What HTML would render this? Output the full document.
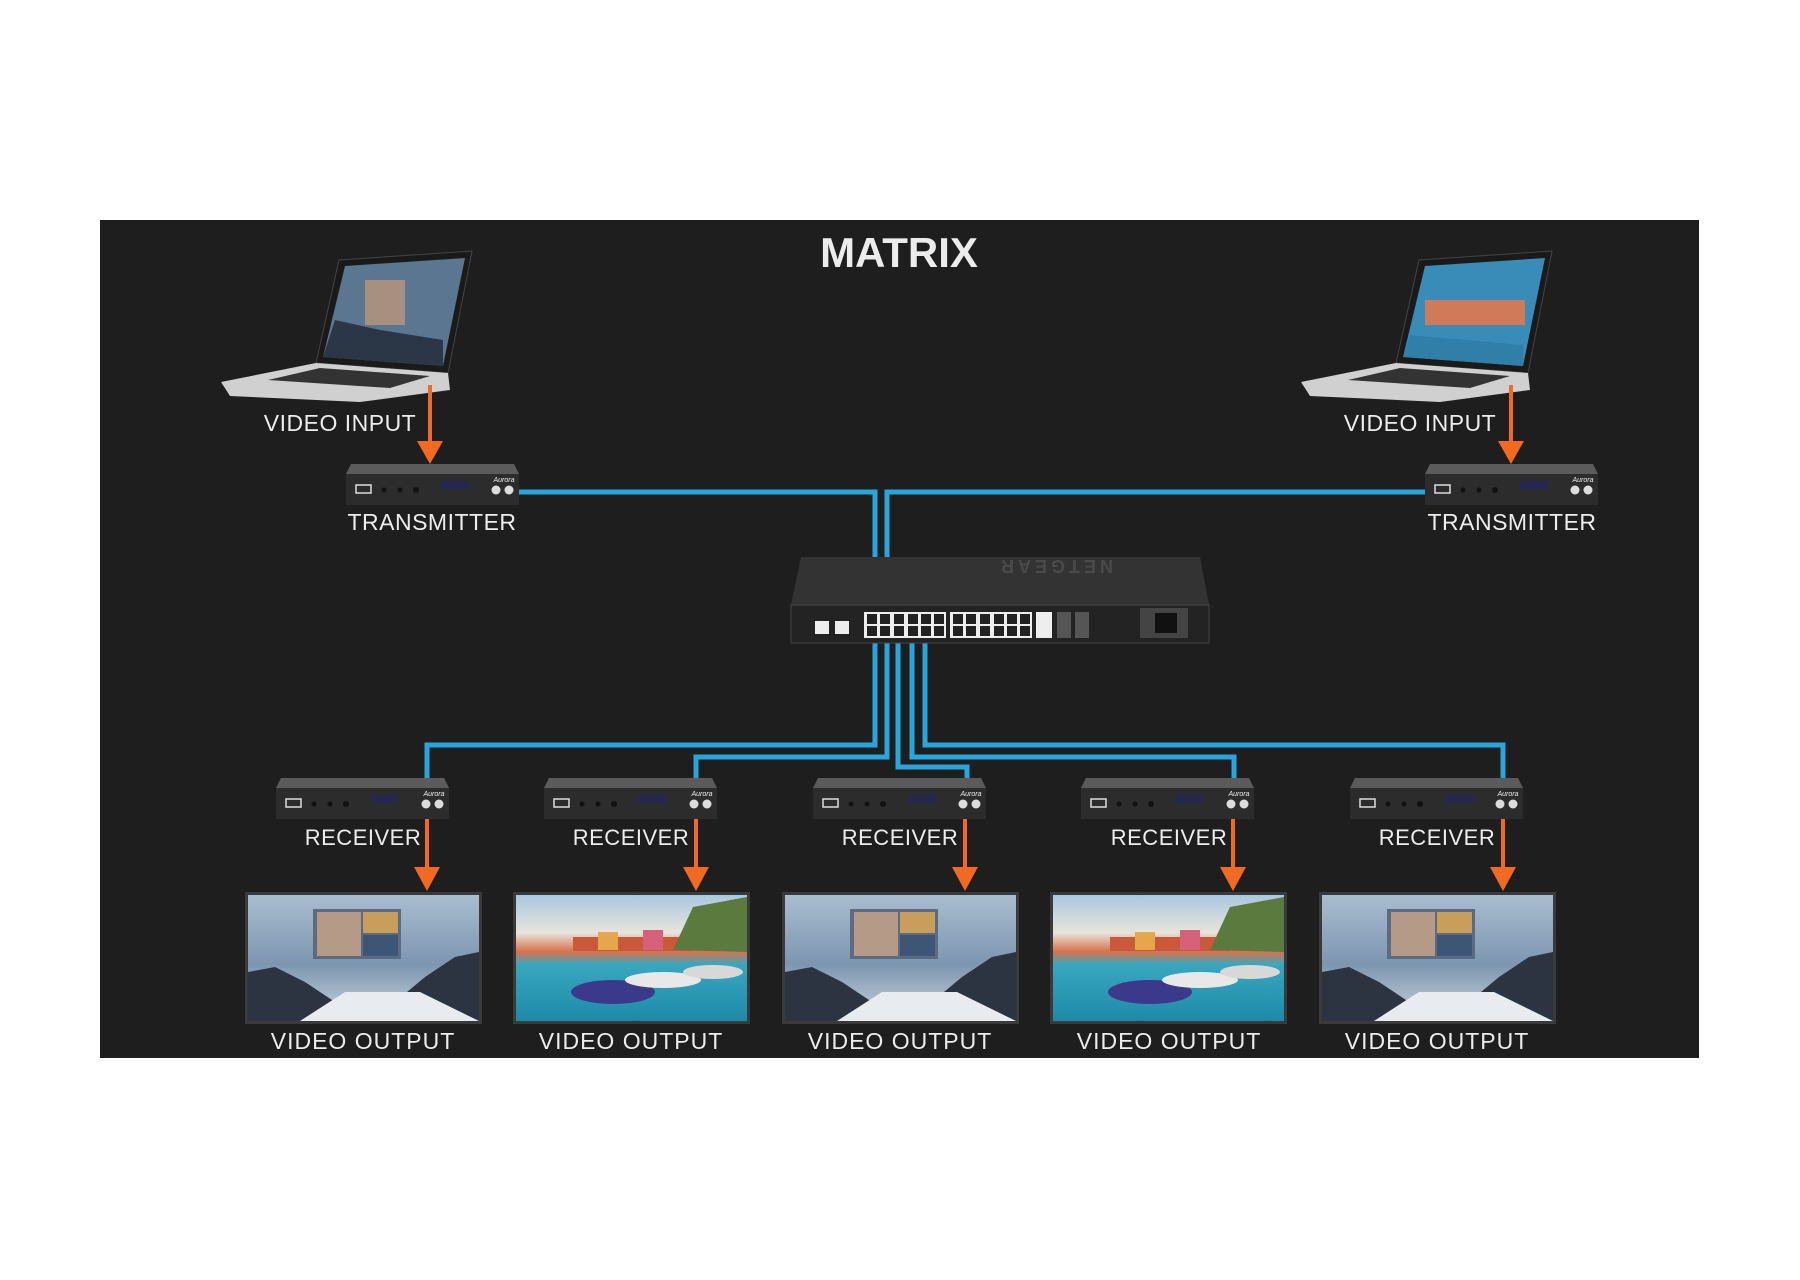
<!DOCTYPE html>
<html><head><meta charset="utf-8"><style>
html,body{margin:0;padding:0;background:#fff;}
svg{display:block}
text{font-family:"Liberation Sans",sans-serif;fill:#ececec;}
</style></head><body>
<svg width="1800" height="1280" viewBox="0 0 1800 1280" xmlns="http://www.w3.org/2000/svg">
<defs>
<linearGradient id="meet" x1="0" y1="0" x2="0" y2="1">
<stop offset="0" stop-color="#a9bdd0"/><stop offset="0.55" stop-color="#7d96b0"/><stop offset="1" stop-color="#c9d3de"/>
</linearGradient>
<linearGradient id="harb" x1="0" y1="0" x2="0" y2="1">
<stop offset="0" stop-color="#a8c8e0"/><stop offset="0.3" stop-color="#e8e4dc"/><stop offset="0.45" stop-color="#d9704a"/><stop offset="0.55" stop-color="#3aa7c0"/><stop offset="1" stop-color="#1d8aa8"/>
</linearGradient>
<g id="dev">
<polygon points="5,0 168,0 173,10 0,10" fill="#5b5b5b"/>
<rect x="0" y="10" width="173" height="31" fill="#2c2c2c"/>
<rect x="10" y="21" width="15" height="8" fill="none" stroke="#ddd" stroke-width="1.5"/>
<circle cx="38" cy="26" r="2.5" fill="#111"/><circle cx="54" cy="26" r="2.5" fill="#111"/><circle cx="70" cy="26" r="3" fill="#111"/>
<rect x="95" y="17" width="28" height="8" fill="#262650"/>
<circle cx="150" cy="26" r="4.5" fill="#ddd"/><circle cx="163" cy="26" r="4.5" fill="#ddd"/>
<text x="158" y="18" font-size="7" font-style="italic" text-anchor="middle">Aurora</text>
</g>
<g id="mon-meet">
<rect x="0" y="0" width="237" height="132" fill="#3a3a3a"/>
<rect x="3" y="3" width="231" height="126" fill="url(#meet)"/>
<rect x="68" y="17" width="88" height="50" fill="#5b6b80"/>
<rect x="72" y="20" width="44" height="44" fill="#b59a88"/>
<rect x="118" y="20" width="35" height="21" fill="#c99d5a"/>
<rect x="118" y="43" width="35" height="21" fill="#3e5676"/>
<polygon points="3,129 3,80 30,75 60,90 90,110 150,110 180,85 210,65 234,60 234,129" fill="#2c3442"/>
<polygon points="55,129 100,100 175,100 234,129" fill="#e8ecf0"/>
</g>
<g id="mon-harb">
<rect x="0" y="0" width="237" height="132" fill="#3a3a3a"/>
<rect x="3" y="3" width="231" height="126" fill="url(#harb)"/>
<rect x="60" y="45" width="120" height="14" fill="#c9593a"/>
<rect x="85" y="40" width="20" height="18" fill="#e5a74a"/>
<rect x="130" y="38" width="20" height="20" fill="#d7607a"/>
<polygon points="160,58 180,15 234,5 234,60" fill="#5a7a3e"/>
<ellipse cx="100" cy="100" rx="42" ry="12" fill="#3b3a8a"/>
<ellipse cx="150" cy="88" rx="38" ry="8" fill="#e8e8e8"/>
<ellipse cx="200" cy="80" rx="30" ry="7" fill="#d8d8d8"/>
</g>
<g id="laptop">
<polygon points="339,260 472,251 448,373 316,363" fill="#1a1a1a" stroke="#444" stroke-width="1"/>
<polygon points="221,382 316,363 448,373 450,390 360,402 230,396" fill="#d0d0d0"/>
<polygon points="268,380 320,368 430,376 390,388" fill="#333"/>
</g>
</defs>
<rect x="100" y="220" width="1599" height="838" fill="#1e1e1e"/>
<text x="899" y="267" font-size="42" font-weight="bold" text-anchor="middle">MATRIX</text>

<use href="#laptop"/>
<use href="#laptop" transform="translate(1080,0)"/>
<polygon points="345,266 465,258 443,366 323,357" fill="#5a7690"/>
<rect x="365" y="280" width="40" height="45" fill="#a89080"/>
<polygon points="323,357 335,320 380,330 443,340 443,366" fill="#2b3646"/>
<polygon points="1425,266 1545,258 1523,366 1403,357" fill="#3a8cb8"/>
<rect x="1425" y="300" width="100" height="25" fill="#d07a5a"/>
<polygon points="1403,357 1410,335 1523,345 1523,366" fill="#2f7fa8"/>

<g font-size="23" text-anchor="middle" letter-spacing="0.5">
<text x="340" y="431">VIDEO INPUT</text>
<text x="1420" y="431">VIDEO INPUT</text>
<text x="432" y="530">TRANSMITTER</text>
<text x="1512" y="530">TRANSMITTER</text>
</g>

<g fill="none" stroke="#27a6de" stroke-width="5">
<polyline points="519,492 875,492 875,616"/>
<polyline points="1425,492 887,492 887,616"/>
<polyline points="875,638 875,745 427,745 427,778"/>
<polyline points="887,638 887,757 696,757 696,778"/>
<polyline points="898,638 898,767 967,767 967,778"/>
<polyline points="912,638 912,757 1234,757 1234,778"/>
<polyline points="925,638 925,745 1503,745 1503,778"/>
</g>

<polygon points="801,557 1200,557 1209,605 791,605" fill="#333"/>
<rect x="791" y="605" width="418" height="38" fill="#232323" stroke="#444"/>
<text x="1055" y="572" font-size="18" font-weight="bold" style="fill:#4a4a4a" letter-spacing="4" text-anchor="middle" transform="rotate(180 1055 566)">NETGEAR</text>
<rect x="864" y="612" width="82" height="26" fill="#eee"/>
<rect x="950" y="612" width="82" height="26" fill="#eee"/>
<g fill="#222">
<rect x="867" y="614" width="10" height="10"/><rect x="880" y="614" width="10" height="10"/><rect x="894" y="614" width="10" height="10"/><rect x="908" y="614" width="10" height="10"/><rect x="921" y="614" width="10" height="10"/><rect x="934" y="614" width="10" height="10"/>
<rect x="867" y="626" width="10" height="10"/><rect x="880" y="626" width="10" height="10"/><rect x="894" y="626" width="10" height="10"/><rect x="908" y="626" width="10" height="10"/><rect x="921" y="626" width="10" height="10"/><rect x="934" y="626" width="10" height="10"/>
<rect x="953" y="614" width="10" height="10"/><rect x="966" y="614" width="10" height="10"/><rect x="980" y="614" width="10" height="10"/><rect x="994" y="614" width="10" height="10"/><rect x="1007" y="614" width="10" height="10"/><rect x="1020" y="614" width="10" height="10"/>
<rect x="953" y="626" width="10" height="10"/><rect x="966" y="626" width="10" height="10"/><rect x="980" y="626" width="10" height="10"/><rect x="994" y="626" width="10" height="10"/><rect x="1007" y="626" width="10" height="10"/><rect x="1020" y="626" width="10" height="10"/>
</g>
<rect x="1036" y="612" width="16" height="26" fill="#eee"/>
<rect x="1057" y="612" width="14" height="26" fill="#555"/><rect x="1075" y="612" width="14" height="26" fill="#555"/>
<rect x="815" y="621" width="14" height="13" fill="#eee"/><rect x="835" y="621" width="14" height="13" fill="#eee"/>
<rect x="1140" y="608" width="48" height="30" fill="#444"/><rect x="1155" y="613" width="22" height="20" fill="#111"/>

<g stroke="#f26a21" stroke-width="4">
<line x1="430" y1="385" x2="430" y2="445"/><line x1="1511" y1="385" x2="1511" y2="445"/>
<line x1="427" y1="817" x2="427" y2="872"/><line x1="696" y1="817" x2="696" y2="872"/><line x1="965" y1="817" x2="965" y2="872"/><line x1="1233" y1="817" x2="1233" y2="872"/><line x1="1503" y1="817" x2="1503" y2="872"/>
</g>
<g fill="#f26a21">
<polygon points="417,441 443,441 430,464"/><polygon points="1498,441 1524,441 1511,464"/>
<polygon points="414,867 440,867 427,891"/><polygon points="683,867 709,867 696,891"/><polygon points="952,867 978,867 965,891"/><polygon points="1220,867 1246,867 1233,891"/><polygon points="1490,867 1516,867 1503,891"/>
</g>

<use href="#dev" transform="translate(346,464)"/>
<use href="#dev" transform="translate(1425,464)"/>
<use href="#dev" transform="translate(276,778)"/>
<use href="#dev" transform="translate(544,778)"/>
<use href="#dev" transform="translate(813,778)"/>
<use href="#dev" transform="translate(1081,778)"/>
<use href="#dev" transform="translate(1350,778)"/>

<g font-size="22" text-anchor="middle" letter-spacing="0.5">
<text x="363" y="845">RECEIVER</text>
<text x="631" y="845">RECEIVER</text>
<text x="900" y="845">RECEIVER</text>
<text x="1169" y="845">RECEIVER</text>
<text x="1437" y="845">RECEIVER</text>
</g>

<use href="#mon-meet" transform="translate(245,892)"/>
<use href="#mon-harb" transform="translate(513,892)"/>
<use href="#mon-meet" transform="translate(782,892)"/>
<use href="#mon-harb" transform="translate(1050,892)"/>
<use href="#mon-meet" transform="translate(1319,892)"/>

<g font-size="23" text-anchor="middle" letter-spacing="1">
<text x="363" y="1049">VIDEO OUTPUT</text>
<text x="631" y="1049">VIDEO OUTPUT</text>
<text x="900" y="1049">VIDEO OUTPUT</text>
<text x="1169" y="1049">VIDEO OUTPUT</text>
<text x="1437" y="1049">VIDEO OUTPUT</text>
</g>
</svg>
</body></html>
